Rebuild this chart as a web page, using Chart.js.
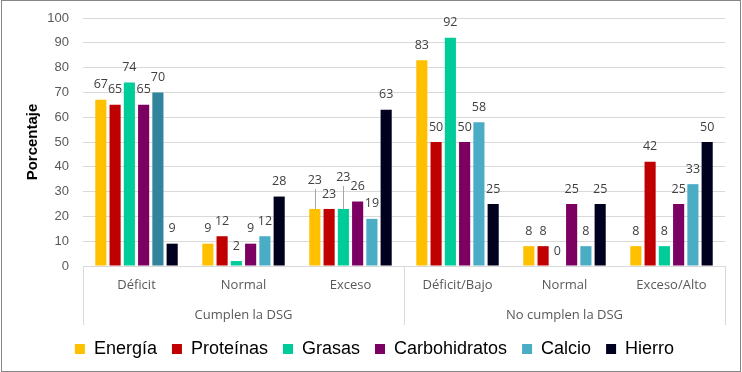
<!DOCTYPE html>
<html><head><meta charset="utf-8">
<script src="https://cdn.jsdelivr.net/npm/chart.js@4"></script>
<style>html,body{margin:0;padding:0;background:#fff}canvas{display:block}</style>
</head><body>
<canvas id="c" width="742" height="372"></canvas>
<script>
// ---- data ----
const categories = ['Déficit', 'Normal', 'Exceso', 'Déficit/Bajo', 'Normal', 'Exceso/Alto'];
const groups = ['Cumplen la DSG', 'No cumplen la DSG'];
const groupSizes = [3, 3];
const seriesNames = ['Energía', 'Proteínas', 'Grasas', 'Carbohidratos', 'Calcio', 'Hierro'];
const energia = [67, 9, 23, 83, 8, 8];
const proteinas = [65, 12, 23, 50, 8, 42];
const grasas = [74, 2, 23, 92, 0, 8];
const carbohidratos = [65, 9, 26, 50, 25, 25];
const calcio = [70, 12, 19, 58, 8, 33];
const hierro = [9, 28, 63, 25, 25, 50];
const yTicks = [0, 10, 20, 30, 40, 50, 60, 70, 80, 90, 100];

// ---- styles ----
const seriesColors = ['#FFC000', '#C00000', '#00CC99', '#7B0061', '#4BACC6', '#00001F'];
const calcioColors = ['#31849B', '#4BACC6', '#4BACC6', '#4BACC6', '#4BACC6', '#4BACC6'];
const labelLift = { '0-2': 14, '2-2': 17 };

const allSeries = [energia, proteinas, grasas, carbohidratos, calcio, hierro];
const datasets = allSeries.map((d, i) => ({
  label: seriesNames[i],
  data: d,
  backgroundColor: i === 4 ? calcioColors : seriesColors[i],
  borderWidth: 0,
  categoryPercentage: 0.8,
  barPercentage: 0.78
}));

const bgPlugin = {
  id: 'bg',
  beforeDraw(chart) {
    const c = chart.ctx;
    c.save();
    c.fillStyle = '#fff';
    c.fillRect(0, 0, chart.width, chart.height);
    c.restore();
  },
  afterDraw(chart) {
    const c = chart.ctx;
    c.save();
    c.strokeStyle = '#868686';
    c.lineWidth = 1;
    c.strokeRect(1.5, 0.5, chart.width - 3, chart.height - 1);
    c.restore();
  }
};

const labelPlugin = {
  id: 'vals',
  afterDatasetsDraw(chart) {
    const c = chart.ctx;
    c.save();
    c.font = '12.5px "Open Sans"';
    c.fillStyle = '#404040';
    c.textAlign = 'center';
    c.textBaseline = 'middle';
    chart.data.datasets.forEach((ds, di) => {
      const meta = chart.getDatasetMeta(di);
      meta.data.forEach((el, i) => {
        const lift = labelLift[di + '-' + i] || 0;
        const y = el.y - 15 - lift;
        if (lift) {
          c.strokeStyle = '#A6A6A6';
          c.lineWidth = 1;
          c.beginPath();
          c.moveTo(Math.round(el.x) + 0.5, el.y);
          c.lineTo(Math.round(el.x) + 0.5, y + 9);
          c.stroke();
        }
        c.fillText(String(ds.data[i]), el.x, y);
      });
    });
    c.restore();
  }
};

const groupPlugin = {
  id: 'groups',
  afterDraw(chart) {
    const xs = chart.scales.x;
    const c = chart.ctx;
    const n = categories.length;
    const w = (xs.right - xs.left) / n;
    const top = chart.chartArea.bottom;
    const bottom = xs.bottom;
    c.save();
    c.strokeStyle = '#D9D9D9';
    c.lineWidth = 1;
    let start = 0;
    const bounds = [xs.getPixelForValue(0) - w / 2];
    groupSizes.forEach(s => { start += s; bounds.push(xs.getPixelForValue(start - 1) + w / 2); });
    bounds.forEach(b => {
      const x = Math.round(b) + 0.5;
      c.beginPath(); c.moveTo(x, top); c.lineTo(x, bottom); c.stroke();
    });
    c.font = '13px "Open Sans"';
    c.fillStyle = '#595959';
    c.textAlign = 'center';
    c.textBaseline = 'middle';
    groups.forEach((g, gi) => {
      c.fillText(g, (bounds[gi] + bounds[gi + 1]) / 2, top + 49);
    });
    c.restore();
  }
};

new Chart(document.getElementById('c'), {
  type: 'bar',
  data: { labels: categories, datasets },
  options: {
    responsive: false,
    animation: false,
    layout: { padding: { top: 18, right: 17, left: 24, bottom: 4 } },
    plugins: {
      tooltip: { enabled: false },
      legend: {
        position: 'bottom',
        labels: {
          boxWidth: 10,
          boxHeight: 10,
          padding: 15,
          color: '#000',
          font: { family: '"Liberation Sans"', size: 18 },
          generateLabels: () => seriesNames.map((s, i) => ({
            text: s, fillStyle: seriesColors[i], strokeStyle: seriesColors[i], lineWidth: 0, datasetIndex: i
          }))
        }
      }
    },
    scales: {
      x: {
        grid: { display: false, drawTicks: false },
        border: { display: true, color: '#D9D9D9' },
        ticks: { color: '#595959', font: { family: '"Open Sans"', size: 13 }, padding: 11, maxRotation: 0 },
        afterFit(s) { s.height = 59; s.paddingLeft = 0; s.paddingRight = 0; }
      },
      y: {
        min: 0, max: 100,
        afterBuildTicks(s) { s.ticks = yTicks.map(v => ({ value: v })); },
        grid: { color: '#D9D9D9', drawTicks: false },
        border: { display: false },
        ticks: { color: '#595959', font: { family: '"Liberation Sans"', size: 13 }, padding: 14 },
        title: { display: true, text: 'Porcentaje', color: '#000', font: { family: '"Liberation Sans"', size: 15, weight: 'bold' }, padding: { top: 0, bottom: 0 } },
        afterFit(s) { s.width = 59; s.paddingTop = 0; s.paddingBottom = 0; }
      }
    }
  },
  plugins: [bgPlugin, labelPlugin, groupPlugin]
});
</script>
</body></html>
